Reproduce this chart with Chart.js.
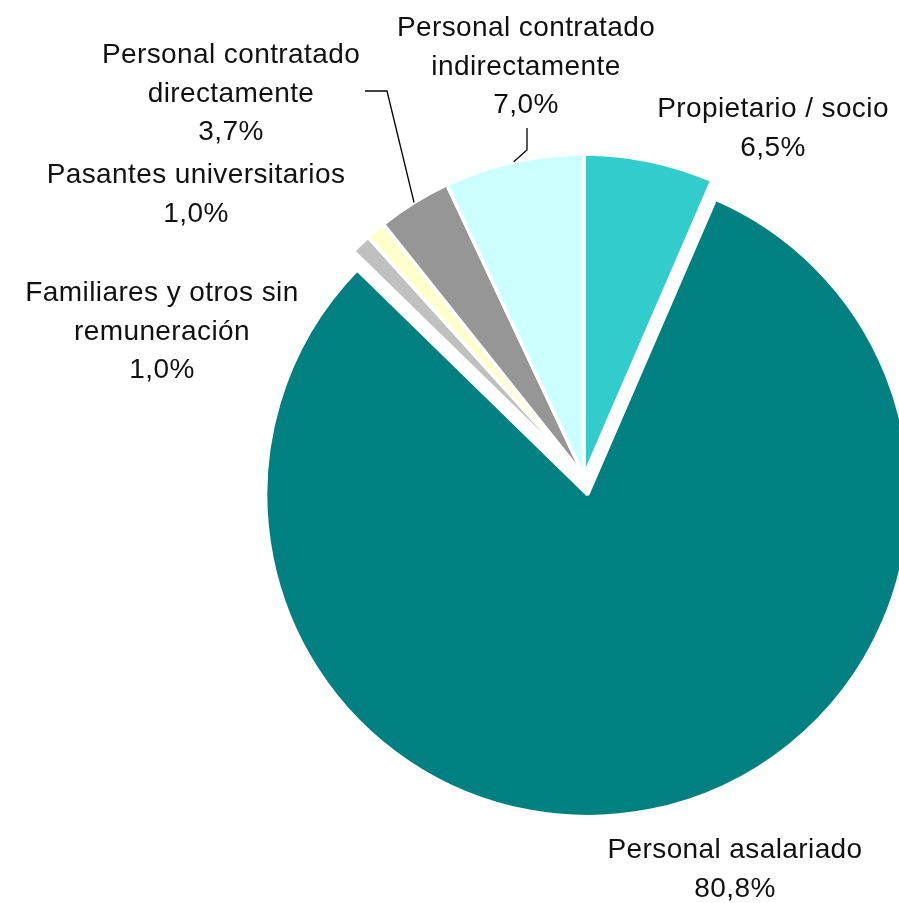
<!DOCTYPE html>
<html>
<head>
<meta charset="utf-8">
<script src="https://cdn.jsdelivr.net/npm/chart.js@4/dist/chart.umd.min.js"></script>
<style>
html, body { margin: 0; padding: 0; background: #ffffff; overflow: hidden; }
#wrap { position: relative; width: 899px; height: 903px; }
#wrap canvas { position: absolute; left: 0; top: 0; }
</style>
</head>
<body>
<div id="wrap">
  <canvas id="bigLayer" width="899" height="903"></canvas>
  <canvas id="smallLayer" width="899" height="903"></canvas>
</div>
<script>
// ---- data ----
const categories = [
  ["Propietario / socio"],
  ["Personal asalariado"],
  ["Familiares y otros sin", "remuneración"],
  ["Pasantes universitarios"],
  ["Personal contratado", "directamente"],
  ["Personal contratado", "indirectamente"]
];
const shares = [6.5, 80.8, 1.0, 1.0, 3.7, 7.0];
const sliceColors = ["#33CCCC", "#008080", "#C0C0C0", "#FFFFCC", "#969696", "#CCFFFF"];
const explodedIndex = 1;

// ---- layout / style ----
const W = 899, H = 903;
const CX = 584, CY = 476, RADIUS = 322;
const EXPLODE = 19;
const BORDER = 3.5;
const FONT = '28px "Liberation Sans", Arial, sans-serif';
const LINE_H = 38.6;
const labelLayout = [
  { x: 773, y: 117 },
  { x: 735, y: 858 },
  { x: 162, y: 301 },
  { x: 196, y: 183 },
  { x: 231, y: 63, leader: [[365, 91], [387, 91]] },
  { x: 526, y: 36, leader: [[527, 128], [527, 150]] }
];

function paddingFor(cx, cy) {
  return {
    left: Math.max(0, 2 * cx - W),
    right: Math.max(0, W - 2 * cx),
    top: Math.max(0, 2 * cy - H),
    bottom: Math.max(0, H - 2 * cy)
  };
}

// direction of the exploded slice (from data)
const total = shares.reduce((a, b) => a + b, 0);
const before = shares.slice(0, explodedIndex).reduce((a, b) => a + b, 0);
const midFrac = (before + shares[explodedIndex] / 2) / total;
const midAng = -Math.PI / 2 + midFrac * 2 * Math.PI;
const BCX = CX + Math.cos(midAng) * EXPLODE;
const BCY = CY + Math.sin(midAng) * EXPLODE;

function fmt(v) { return v.toFixed(1).replace('.', ',') + '%'; }

const labelPlugin = {
  id: 'sliceLabels',
  afterDraw(chart) {
    const ctx = chart.ctx;
    const meta = chart.getDatasetMeta(0);
    ctx.save();
    ctx.font = FONT;
    if ('letterSpacing' in ctx) ctx.letterSpacing = '0.4px';
    ctx.fillStyle = '#111111';
    ctx.textAlign = 'center';
    ctx.textBaseline = 'alphabetic';
    categories.forEach((lines, i) => {
      const L = labelLayout[i];
      const all = lines.concat([fmt(shares[i])]);
      all.forEach((t, k) => ctx.fillText(t, L.x, L.y + k * LINE_H));
      if (L.leader) {
        const arc = meta.data[i];
        const p = arc.getProps(['x', 'y', 'startAngle', 'endAngle', 'outerRadius'], true);
        const a = (p.startAngle + p.endAngle) / 2;
        const ex = p.x + Math.cos(a) * p.outerRadius;
        const ey = p.y + Math.sin(a) * p.outerRadius;
        ctx.beginPath();
        ctx.moveTo(L.leader[0][0], L.leader[0][1]);
        for (let k = 1; k < L.leader.length; k++) ctx.lineTo(L.leader[k][0], L.leader[k][1]);
        ctx.lineTo(ex, ey);
        ctx.strokeStyle = '#000000';
        ctx.lineWidth = 1.3;
        ctx.stroke();
      }
    });
    ctx.restore();
  }
};

function makeChart(canvasId, showExploded, cx, cy, plugins) {
  const bg = sliceColors.map((c, i) => ((i === explodedIndex) === showExploded) ? c : 'rgba(0,0,0,0)');
  const bc = sliceColors.map((c, i) => ((i === explodedIndex) === showExploded) ? '#ffffff' : 'rgba(0,0,0,0)');
  return new Chart(document.getElementById(canvasId), {
    type: 'pie',
    data: {
      labels: categories,
      datasets: [{
        data: shares,
        backgroundColor: bg,
        borderColor: bc,
        borderWidth: BORDER,
        radius: RADIUS
      }]
    },
    options: {
      responsive: false,
      animation: false,
      events: [],
      layout: { padding: paddingFor(cx, cy) },
      plugins: {
        legend: { display: false },
        tooltip: { enabled: false },
        title: { display: false }
      }
    },
    plugins: plugins
  });
}

makeChart('bigLayer', true, BCX, BCY, []);
makeChart('smallLayer', false, CX, CY, [labelPlugin]);
</script>
</body>
</html>
